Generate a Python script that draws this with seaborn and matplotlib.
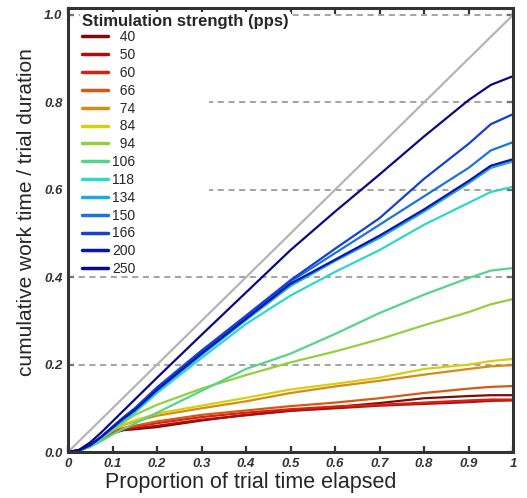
import numpy as np
import pandas as pd
import seaborn as sns
import matplotlib
matplotlib.use("Agg")
import matplotlib.pyplot as plt
from matplotlib.patches import Rectangle

# Proportion of trial time elapsed (sample points)
elapsed = [0, .025, .05, .075, .1, .125, .15, .2, .3, .4, .5, .6, .7, .8, .9, .95, 1.0]

# Stimulation strengths (pulses per second)
strengths = [40, 50, 60, 66, 74, 84, 94, 106, 118, 134, 150, 166, 200, 250]

# Cumulative work time / trial duration for each strength
work_40 = [0, .003, .013, .029, .043, .050, .052, .057, .072, .085, .095, .103, .112, .123, .128, .130, .130]
work_50 = [0, .003, .013, .029, .044, .051, .054, .060, .074, .084, .094, .100, .106, .110, .114, .117, .118]
work_60 = [0, .003, .014, .030, .046, .054, .058, .066, .080, .090, .098, .104, .108, .113, .118, .120, .120]
work_66 = [0, .003, .014, .030, .046, .055, .060, .070, .085, .095, .105, .113, .123, .135, .145, .149, .151]
work_74 = [0, .003, .014, .032, .050, .062, .070, .083, .100, .116, .135, .150, .163, .177, .190, .196, .199]
work_84 = [0, .003, .014, .032, .050, .063, .072, .088, .106, .124, .143, .156, .170, .190, .200, .208, .213]
work_94 = [0, .004, .015, .032, .050, .068, .085, .108, .145, .176, .205, .230, .258, .290, .320, .338, .350]
work_106 = [0, .003, .012, .025, .040, .053, .065, .090, .140, .190, .225, .270, .318, .360, .398, .415, .421]
work_118 = [0, .003, .014, .032, .052, .072, .090, .135, .215, .293, .358, .412, .462, .520, .570, .595, .607]
work_134 = [0, .004, .015, .034, .055, .075, .094, .140, .222, .302, .380, .437, .490, .550, .615, .650, .665]
work_150 = [0, .004, .016, .035, .057, .078, .098, .145, .228, .308, .390, .455, .520, .585, .650, .690, .709]
work_166 = [0, .004, .016, .035, .058, .080, .100, .148, .232, .312, .393, .465, .535, .625, .705, .750, .773]
work_200 = [0, .004, .016, .035, .056, .077, .096, .142, .225, .305, .385, .440, .495, .555, .620, .655, .670]
work_250 = [0, .005, .022, .045, .070, .095, .120, .170, .268, .365, .462, .550, .635, .722, .805, .840, .860]

series = [work_40, work_50, work_60, work_66, work_74, work_84, work_94,
          work_106, work_118, work_134, work_150, work_166, work_200, work_250]

colors = ['#7b0c0c', '#b00f0f', '#d8210f', '#d55a10', '#d68c12', '#d4d010', '#92d040',
          '#55d48a', '#2ed8c8', '#1fa8dc', '#1e72dc', '#1440d4', '#0c14b0', '#0a0a80']

# Right-align the legend numbers with figure spaces
labels = [("\u2007" * (3 - len(str(s)))) + str(s) for s in strengths]

rows = []
for lab, ys in zip(labels, series):
    for xv, yv in zip(elapsed, ys):
        rows.append({"elapsed": xv, "work": yv, "strength": lab})
df = pd.DataFrame(rows)

sns.set_style("white")
plt.rcParams['font.family'] = ['Liberation Sans', 'DejaVu Sans']

fig = plt.figure(figsize=(5.27, 4.98), dpi=100)
ax = fig.add_axes([68 / 527, 46 / 498, 445 / 527, 444 / 498])

# Reference grid lines and unity line
for yv in [0.2, 0.4, 0.6, 0.8, 1.0]:
    ax.axhline(yv, color='#8a8a8a', lw=1.1, ls=(0, (4, 3)), zorder=1)
ax.plot([0, 1], [0, 1], color='#b5b5b5', lw=1.6, zorder=2)

sns.lineplot(data=df, x="elapsed", y="work", hue="strength", hue_order=labels,
             palette=dict(zip(labels, colors)), linewidth=1.6, ax=ax,
             estimator=None, sort=False, legend='full', zorder=3)

# White panel behind the legend
ax.add_patch(Rectangle((0, 0.401), 0.317, 0.558, transform=ax.transAxes,
                       facecolor='white', edgecolor='none', zorder=4))

handles, labs = ax.get_legend_handles_labels()
leg = ax.legend(handles, labs, loc='upper left', bbox_to_anchor=(0.0315, 0.950),
                frameon=False, fontsize=10, handlelength=1.87, handletextpad=0.3,
                labelspacing=0.276, borderpad=0.0, borderaxespad=0.0)
for h in leg.get_lines():
    h.set_linewidth(2.5)
leg.set_zorder(5)

title = ax.text(0.0315, 0.9685, "Stimulation strength (pps)", transform=ax.transAxes,
                fontsize=12, fontweight='bold', ha='left', va='center',
                bbox=dict(facecolor='white', edgecolor='none', pad=1.5))
title.set_zorder(10)

ax.set_xlim(0, 1)
ax.set_ylim(0, 1.016)
ax.set_xticks(np.arange(0, 1.01, 0.1))
ax.set_xticklabels(["0", "0.1", "0.2", "0.3", "0.4", "0.5", "0.6", "0.7", "0.8", "0.9", "1"])
ax.set_yticks(np.arange(0, 1.01, 0.2))
ax.set_yticklabels(["0.0", "0.2", "0.4", "0.6", "0.8", "1.0"])

for lab in ax.get_xticklabels() + ax.get_yticklabels():
    lab.set_fontstyle('italic')
    lab.set_fontweight('bold')
    lab.set_fontsize(9.5)
    lab.set_color('#333333')

ax.tick_params(direction='in', length=4, width=1.6, color='#333333',
               top=True, right=True, bottom=True, left=True, pad=4)

for sp in ax.spines.values():
    sp.set_linewidth(2.2)
    sp.set_color('#333333')
    sp.set_zorder(7)

ax.set_xlabel("Proportion of trial time elapsed", fontsize=15.5, labelpad=1)
ax.xaxis.set_label_coords(0.411, -0.045, transform=ax.transAxes)
ax.xaxis.label.set_va('top')
ax.set_ylabel("cumulative work time / trial duration", fontsize=15)
ax.yaxis.set_label_coords(-0.072, 0.541, transform=ax.transAxes)

fig.savefig("out.png", dpi=100)
